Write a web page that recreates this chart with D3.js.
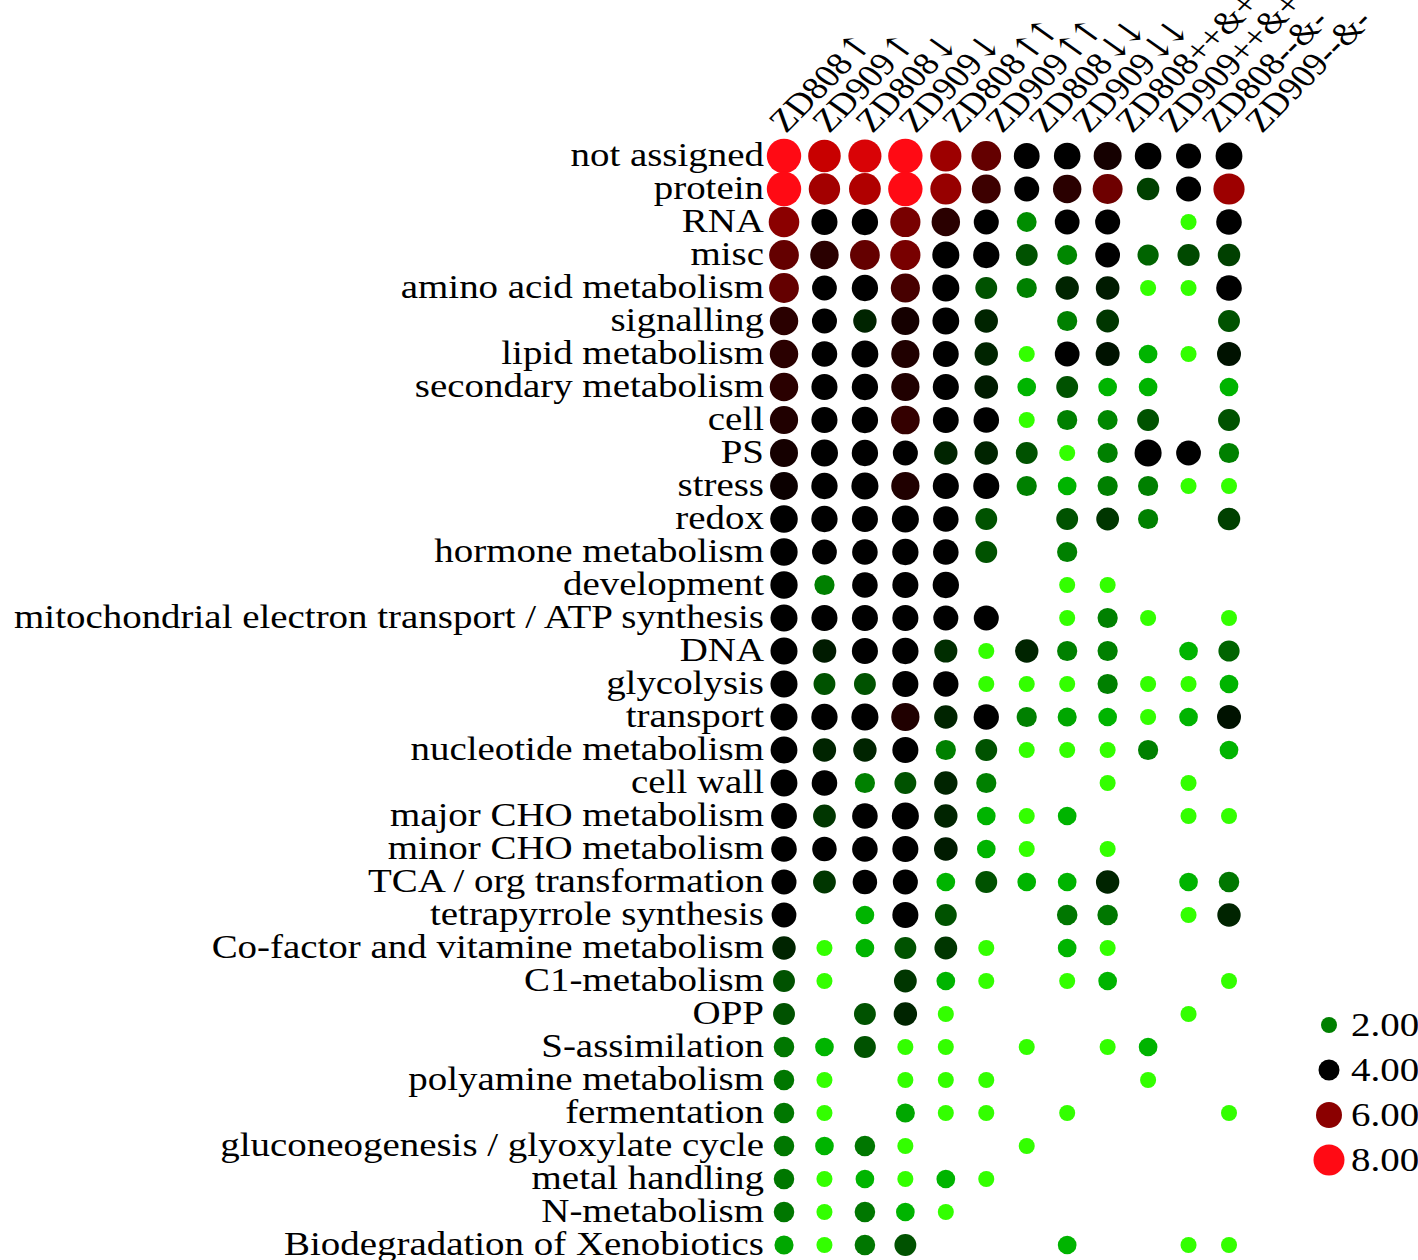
<!DOCTYPE html>
<html lang="en">
<head>
  <meta charset="UTF-8">
  <title>Functional category dot matrix</title>
  <script src="https://d3js.org/d3.v7.min.js"></script>
  <style>
    body { margin: 0; background: #fff; }
    text {
      font-family: "Liberation Serif", "Times New Roman", serif;
      font-size: 33px;
      fill: #000;
    }
    .col-label { font-size: 32px; }
    .arrow {
      font-family: "DejaVu Serif", serif;
      letter-spacing: -7px;
    }
  </style>
</head>
<body>
  <svg width="1418" height="1260"></svg>
  <script>
    const categories = [
      'not assigned', 'protein', 'RNA', 'misc', 'amino acid metabolism', 'signalling',
      'lipid metabolism', 'secondary metabolism', 'cell', 'PS', 'stress', 'redox',
      'hormone metabolism', 'development',
      'mitochondrial electron transport / ATP synthesis', 'DNA', 'glycolysis',
      'transport', 'nucleotide metabolism', 'cell wall', 'major CHO metabolism',
      'minor CHO metabolism', 'TCA / org transformation', 'tetrapyrrole synthesis',
      'Co-factor and vitamine metabolism', 'C1-metabolism', 'OPP', 'S-assimilation',
      'polyamine metabolism', 'fermentation', 'gluconeogenesis / glyoxylate cycle',
      'metal handling', 'N-metabolism', 'Biodegradation of Xenobiotics'
    ];

    const columns = [
      'ZD808↑', 'ZD909↑', 'ZD808↓', 'ZD909↓', 'ZD808↑↑', 'ZD909↑↑',
      'ZD808↓↓', 'ZD909↓↓', 'ZD808++&+', 'ZD909++&+', 'ZD808--&-', 'ZD909--&-'
    ];

    // one array per column, one value per category (null = no dot)
    const zd808Up = [8.2, 8.2, 6.0, 5.6, 5.6, 5.0, 5.0, 5.0, 4.9, 4.8, 4.7, 4.6, 4.5, 4.5, 4.4, 4.4, 4.4, 4.4, 4.3, 4.3, 3.9, 3.8, 3.6, 3.5, 3.0, 2.5, 2.5, 2.1, 2.1, 2.1, 2.1, 2.1, 2.1, 1.7];
    const zd909Up = [7.0, 6.4, 4.0, 5.0, 3.5, 3.6, 3.8, 4.0, 4.0, 4.4, 4.1, 4.1, 3.5, 2.0, 4.0, 3.1, 2.5, 4.1, 3.0, 3.8, 2.8, 3.4, 2.8, null, 1.0, 1.0, null, 1.6, 1.0, 1.0, 1.6, 1.0, 1.0, 1.0];
    const zd808Down = [7.3, 6.6, 4.1, 5.6, 4.1, 3.0, 4.3, 4.1, 4.1, 4.1, 4.4, 4.0, 3.8, 3.8, 4.0, 4.0, 2.5, 4.4, 3.0, 2.0, 3.8, 3.8, 3.4, 1.6, 1.6, null, 2.5, 2.5, null, null, 2.1, 1.6, 2.1, 2.1];
    const zd909Down = [8.2, 8.0, 5.8, 5.8, 5.3, 4.8, 4.9, 4.9, 5.1, 3.6, 4.9, 4.4, 4.1, 4.0, 4.0, 4.1, 4.0, 4.9, 4.0, 2.5, 4.4, 4.0, 3.6, 4.0, 2.5, 2.8, 3.0, 1.0, 1.0, 1.7, 1.0, 1.0, 1.6, 2.5];
    const zd808UpUp = [6.3, 6.2, 5.0, 4.4, 4.4, 4.3, 3.9, 4.0, 3.9, 3.0, 4.0, 3.8, 3.8, 4.1, 3.6, 2.9, 3.7, 3.0, 2.0, 3.0, 3.0, 3.1, 1.6, 2.5, 2.8, 1.6, 1.0, 1.0, 1.0, 1.0, null, 1.6, 1.0, null];
    const zd909UpUp = [5.6, 5.2, 3.6, 4.1, 2.5, 3.0, 3.0, 3.1, 3.8, 3.0, 4.0, 2.5, 2.5, null, 3.6, 1.0, 1.0, 3.7, 2.5, 2.0, 1.6, 1.6, 2.5, null, 1.0, 1.0, null, null, 1.0, 1.0, null, 1.0, null, null];
    const zd808DownDown = [3.9, 3.6, 1.9, 2.5, 2.0, null, 1.0, 1.6, 1.0, 2.5, 2.0, null, null, null, null, 3.0, 1.0, 2.0, 1.0, null, 1.0, 1.0, 1.6, null, null, null, null, 1.0, null, null, 1.0, null, null, null];
    const zd909DownDown = [4.2, 5.0, 3.5, 1.95, 3.0, 2.0, 3.5, 2.5, 2.0, 1.0, 1.6, 2.5, 2.0, 1.0, 1.0, 2.0, 1.0, 1.7, 1.0, null, 1.6, null, 1.6, 2.1, 1.6, 1.0, null, null, null, 1.0, null, null, null, 1.6];
    const zd808Plus = [4.8, 5.7, 3.6, 3.5, 3.1, 2.8, 3.2, 1.6, 1.95, 2.0, 2.0, 2.8, null, 1.0, 2.0, 2.0, 2.0, 1.6, 1.0, 1.0, null, 1.0, 3.0, 2.1, 1.0, 1.6, null, 1.0, null, null, null, null, null, null];
    const zd909Plus = [4.2, 2.7, null, 2.3, 1.0, null, 1.6, 1.6, 2.5, 4.4, 2.0, 2.0, null, null, 1.0, null, 1.0, 1.0, 2.0, null, null, null, null, null, null, null, null, 1.6, 1.0, null, null, null, null, null];
    const zd808Minus = [3.6, 3.6, 1.0, 2.6, 1.0, null, 1.0, null, null, 3.5, 1.0, null, null, null, null, 1.6, 1.0, 1.6, null, 1.0, 1.0, null, 1.6, 1.0, null, null, 1.0, null, null, null, null, null, null, 1.0];
    const zd909Minus = [4.3, 6.3, 3.8, 2.7, 3.8, 2.5, 3.2, 1.6, 2.5, 2.0, 1.0, 2.7, null, null, 1.0, 2.3, 1.6, 3.2, 1.6, null, 1.0, null, 2.1, 3.0, null, 1.0, null, null, null, 1.0, null, null, null, 1.0];

    const series = [zd808Up, zd909Up, zd808Down, zd909Down, zd808UpUp, zd909UpUp,
      zd808DownDown, zd909DownDown, zd808Plus, zd909Plus, zd808Minus, zd909Minus];

    const legendValues = [2, 4, 6, 8];

    const svg = d3.select('svg');
    const stretch = 1.18; // text in the figure is widened horizontally

    const x = d3.scalePoint().domain(columns).range([784, 1229]);
    const y = d3.scalePoint().domain(categories).range([156, 1245]);
    // header labels sit on a slightly wider spacing than the dot columns
    const xLabel = d3.scalePoint().domain(columns).range([786, 1262]);

    const r = d3.scaleSqrt().domain([0, 8]).range([3, 17.2]).clamp(true);
    const color = d3.scaleLinear()
      .domain([1, 1.6, 2, 2.5, 3, 3.4, 4.6, 5, 6, 7, 8])
      .range(['#33ff00', '#00b400', '#008000', '#005200', '#002400', '#000000',
        '#000000', '#2a0000', '#8b0000', '#c80000', '#ff0a14'])
      .clamp(true);

    const cells = [];
    series.forEach((vals, j) => {
      vals.forEach((v, i) => {
        if (v != null) cells.push({ row: categories[i], col: columns[j], value: v });
      });
    });

    svg.append('g')
      .selectAll('circle')
      .data(cells)
      .enter()
      .append('circle')
      .attr('cx', d => x(d.col))
      .attr('cy', d => y(d.row))
      .attr('r', d => r(d.value))
      .attr('fill', d => color(d.value));

    // row labels
    svg.append('g')
      .selectAll('text')
      .data(categories)
      .enter()
      .append('text')
      .attr('transform', d => `translate(764,${y(d) + 10}) scale(${stretch},1)`)
      .attr('text-anchor', 'end')
      .text(d => d);

    // column labels, arrows set in a font that draws them full size
    svg.append('g')
      .selectAll('text')
      .data(columns)
      .enter()
      .append('text')
      .attr('class', 'col-label')
      .attr('transform', d => `translate(${xLabel(d)},134) scale(${stretch},1) rotate(-50)`)
      .each(function (d) {
        const t = d3.select(this);
        d.split(/([↑↓]+)/).filter(s => s.length).forEach(part => {
          t.append('tspan')
            .attr('class', /[↑↓]/.test(part) ? 'arrow' : null)
            .text(part);
        });
      });

    // legend
    const legendR = d3.scaleLinear().domain([2, 8]).range([8, 15.5]);
    const legendY = d3.scalePoint().domain(legendValues).range([1025, 1160]);

    const legend = svg.append('g')
      .selectAll('g')
      .data(legendValues)
      .enter()
      .append('g');

    legend.append('circle')
      .attr('cx', 1329)
      .attr('cy', d => legendY(d))
      .attr('r', d => legendR(d))
      .attr('fill', d => color(d));

    legend.append('text')
      .attr('transform', d => `translate(1351,${legendY(d) + 11}) scale(${stretch},1)`)
      .text(d => d3.format('.2f')(d));
  </script>
</body>
</html>
